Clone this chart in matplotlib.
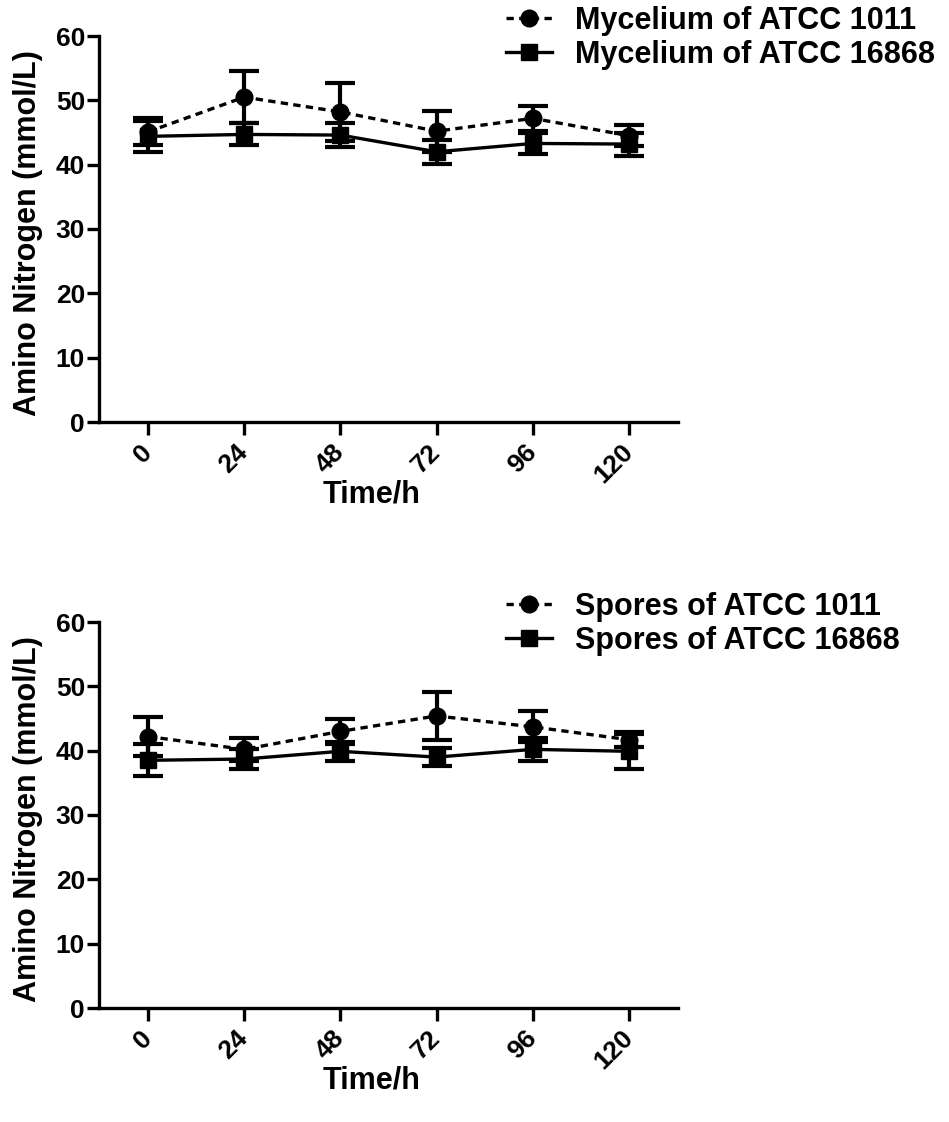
import matplotlib
matplotlib.use("Agg")
import matplotlib.pyplot as plt
from matplotlib.lines import Line2D

plt.rcParams['font.family'] = ['Liberation Sans', 'DejaVu Sans']
plt.rcParams['font.weight'] = 'bold'

# sampling times (h)
time_h = [0, 24, 48, 72, 96, 120]

# mycelium panel
myc_1011 = [45.1, 50.5, 48.2, 45.2, 47.2, 44.5]
myc_1011_sd = [2.1, 4.1, 4.5, 3.2, 1.9, 1.6]
myc_16868 = [44.4, 44.7, 44.6, 42.0, 43.3, 43.2]
myc_16868_sd = [2.4, 1.7, 1.8, 1.9, 1.7, 1.8]

# spores panel
spo_1011 = [42.2, 40.2, 43.0, 45.4, 43.7, 41.7]
spo_1011_sd = [3.1, 1.8, 2.0, 3.7, 2.4, 1.2]
spo_16868 = [38.5, 38.7, 39.9, 39.0, 40.2, 39.9]
spo_16868_sd = [2.5, 1.5, 1.5, 1.4, 1.8, 2.7]

yticks = [0, 10, 20, 30, 40, 50, 60]

W, H = 949, 1122
fig = plt.figure(figsize=(W / 100, H / 100), dpi=100)

DASH = (0, (2.2, 1.6))
LW = 2.4


def panel(top_px, s1, s1_sd, s2, s2_sd, lab1, lab2):
    ax = fig.add_axes([99 / W, 1 - (top_px + 386) / H, 579 / W, 386 / H])

    # dashed series with circles
    ax.errorbar(time_h, s1, yerr=s1_sd, color='black', lw=LW, ls=DASH,
                marker='o', ms=12, capsize=11, capthick=3, elinewidth=3,
                zorder=3)
    # solid series with squares
    ax.errorbar(time_h, s2, yerr=s2_sd, color='black', lw=LW, ls='-',
                marker='s', ms=12, capsize=11, capthick=3, elinewidth=3,
                zorder=4)

    ax.set_xlim(-12.2, 132.2)
    ax.set_ylim(0, 60)
    ax.set_xticks(time_h)
    ax.set_yticks(yticks)
    for s in ['top', 'right']:
        ax.spines[s].set_visible(False)
    for s in ['left', 'bottom']:
        ax.spines[s].set_linewidth(2.4)

    ax.tick_params(axis='both', width=2.4, length=9, labelsize=19)
    ax.tick_params(axis='y', pad=1)
    ax.tick_params(axis='x', pad=10)
    for lbl in ax.get_xticklabels():
        lbl.set_rotation(45)
        lbl.set_ha('right')
        lbl.set_va('center')
        lbl.set_rotation_mode('anchor')
        lbl.set_fontweight('bold')
    for lbl in ax.get_yticklabels():
        lbl.set_fontweight('bold')

    ax.set_xlabel('Time/h', fontsize=22, fontweight='bold', va='center')
    ax.xaxis.set_label_coords(0.47, -0.188)
    ax.set_ylabel('Amino Nitrogen (mmol/L)', fontsize=22, fontweight='bold',
                  va='center', ha='center')
    ax.yaxis.set_label_coords(-0.122, 0.49)

    handles = [
        Line2D([], [], color='black', lw=LW, ls=DASH, marker='o', ms=12),
        Line2D([], [], color='black', lw=LW, ls='-', marker='s', ms=12),
    ]
    fig.legend(handles=handles, labels=[lab1, lab2],
               loc='upper left', bbox_to_anchor=(506 / W, 1 - (top_px - 30) / H),
               frameon=False, borderpad=0, borderaxespad=0,
               handlelength=1.5, handletextpad=0.75, labelspacing=0.12,
               prop={'weight': 'bold', 'size': 22})
    return ax


panel(36, myc_1011, myc_1011_sd, myc_16868, myc_16868_sd,
      'Mycelium of ATCC 1011', 'Mycelium of ATCC 16868')
panel(622, spo_1011, spo_1011_sd, spo_16868, spo_16868_sd,
      'Spores of ATCC 1011', 'Spores of ATCC 16868')

fig.savefig('out.png', dpi=100)
